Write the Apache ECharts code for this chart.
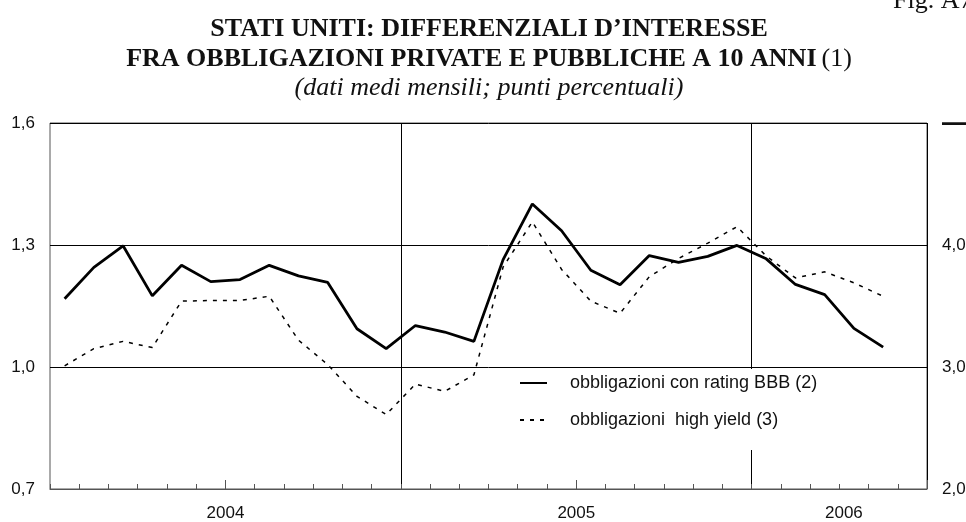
<!DOCTYPE html>
<html>
<head>
<meta charset="utf-8">
<script src="https://cdn.jsdelivr.net/npm/echarts@6/dist/echarts.min.js"></script>
<style>
  html, body { margin: 0; padding: 0; background: #fff; }
  #main { width: 966px; height: 522px; }
</style>
</head>
<body>
<div id="main"></div>
<script type="text/javascript">
    // mesi (gen 2004 - giu 2006)
    var months = [
        '2004-01','2004-02','2004-03','2004-04','2004-05','2004-06',
        '2004-07','2004-08','2004-09','2004-10','2004-11','2004-12',
        '2005-01','2005-02','2005-03','2005-04','2005-05','2005-06',
        '2005-07','2005-08','2005-09','2005-10','2005-11','2005-12',
        '2006-01','2006-02','2006-03','2006-04','2006-05','2006-06'
    ];
    // etichette anni e indice del mese su cui stanno
    var yearLabels = ['2004', '2005', '2006'];
    var yearLabelIdx = [6, 18, 27];

    // obbligazioni con rating BBB (scala di sinistra)
    var bbb = [1.168, 1.245, 1.298, 1.175, 1.250, 1.210, 1.215, 1.250, 1.224, 1.208, 1.094, 1.045,
               1.102, 1.086, 1.063, 1.264, 1.401, 1.335, 1.238, 1.202, 1.274, 1.257, 1.272, 1.299,
               1.266, 1.203, 1.178, 1.095, 1.049, null];
    // obbligazioni high yield (scala di destra)
    var highYield = [3.01, 3.15, 3.21, 3.16, 3.54, 3.545, 3.545, 3.58, 3.22, 3.02, 2.76, 2.61,
                     2.86, 2.80, 2.935, 3.82, 4.19, 3.80, 3.54, 3.44, 3.74, 3.89, 4.015, 4.15,
                     3.91, 3.73, 3.78, 3.69, 3.58, null];

    var leftTicks = [0.7, 1.6, 0.3];   // min, max, interval
    var rightTicks = [2, 5, 1];

    var sans = "'Liberation Sans', Arial, sans-serif";
    var serif = "'Liberation Serif', 'Times New Roman', serif";

    var myChart = echarts.init(document.getElementById('main'));
    myChart.setOption({
        animation: false,
        backgroundColor: '#fff',
        title: [
            {
                text: '{b|STATI UNITI: DIFFERENZIALI D\u2019INTERESSE}\n{b|FRA OBBLIGAZIONI PRIVATE E PUBBLICHE A 10 ANNI} {r|(1)}',
                left: 489,
                top: 14,
                padding: 0,
                textAlign: 'center',
                textStyle: {
                    lineHeight: 30,
                    rich: {
                        b: { fontFamily: serif, fontWeight: 'bold', fontSize: 26, color: '#111', lineHeight: 30 },
                        r: { fontFamily: serif, fontWeight: 'normal', fontSize: 26, color: '#111', lineHeight: 30 }
                    }
                }
            },
            {
                text: '(dati medi mensili; punti percentuali)',
                left: 489,
                top: 73,
                padding: 0,
                textAlign: 'center',
                textStyle: { fontFamily: serif, fontStyle: 'italic', fontWeight: 'normal', fontSize: 26, lineHeight: 30, color: '#111' }
            },
            {
                text: 'Fig. A7',
                left: 893,
                top: -14,
                padding: 0,
                textStyle: { fontFamily: serif, fontWeight: 'normal', fontSize: 26, lineHeight: 30, color: '#111' }
            }
        ],
        grid: {
            left: 50,
            right: 39,
            top: 123,
            bottom: 33,
            outerBoundsMode: 'none',
            containLabel: false,
            show: true,
            borderColor: '#555',
            borderWidth: 1
        },
        legend: {
            orient: 'vertical',
            left: 511,
            top: 369,
            padding: [5, 12, 21, 8],
            backgroundColor: '#fff',
            itemWidth: 27,
            itemHeight: 12,
            itemGap: 19,
            itemStyle: { opacity: 0 },
            textStyle: { fontFamily: sans, fontSize: 18, color: '#111', padding: [0, 0, 0, 18] },
            data: ['obbligazioni con rating BBB (2)', 'obbligazioni  high yield (3)']
        },
        xAxis: [
            {
                type: 'category',
                data: months,
                boundaryGap: true,
                axisLine: { show: true, lineStyle: { color: '#555', width: 1 } },
                axisTick: { show: true, inside: true, length: 5, interval: 0, lineStyle: { color: '#555' } },
                axisLabel: {
                    interval: function (i) { return yearLabelIdx.indexOf(i) >= 0; },
                    margin: 16,
                    formatter: function (v, i) {
                        var k = yearLabelIdx.indexOf(i);
                        if (k < 0) return '';
                        return (k === yearLabels.length - 1 ? '{s|' : '{y|') + yearLabels[k] + '}';
                    },
                    rich: {
                        y: { fontFamily: sans, fontSize: 17, color: '#111', padding: [0, 29, 0, 0] },
                        s: { fontFamily: sans, fontSize: 17, color: '#111', padding: [0, 20, 0, 0] }
                    }
                },
                splitLine: {
                    show: true,
                    interval: function (i) { return i > 0 && i % 12 === 0; },
                    lineStyle: { color: '#000', width: 1 }
                }
            },
            {
                type: 'category',
                data: months,
                position: 'bottom',
                boundaryGap: true,
                axisLine: { show: false },
                axisLabel: { show: false },
                axisTick: {
                    show: true, inside: true, length: 9,
                    interval: function (i) { return i % 12 === 6; },
                    lineStyle: { color: '#555' }
                },
                splitLine: { show: false }
            }
        ],
        yAxis: [
            {
                type: 'value',
                position: 'left',
                min: leftTicks[0],
                max: leftTicks[1],
                interval: leftTicks[2],
                axisLine: { show: false },
                axisTick: { show: false },
                axisLabel: {
                    margin: 15,
                    fontFamily: sans, fontSize: 17, color: '#111',
                    formatter: function (v) { return v.toFixed(1).replace('.', ','); }
                },
                splitLine: { show: true, lineStyle: { color: '#000', width: 1 } }
            },
            {
                type: 'value',
                position: 'right',
                min: rightTicks[0],
                max: rightTicks[1],
                interval: rightTicks[2],
                axisLine: { show: false },
                axisTick: { show: false },
                splitLine: { show: false },
                axisLabel: {
                    margin: 15,
                    fontFamily: sans, fontSize: 17, color: '#111',
                    formatter: function (v) {
                        if (v === rightTicks[1]) return '{d|\u2014}';
                        return v.toFixed(1).replace('.', ',');
                    },
                    rich: { d: { fontSize: 28, fontWeight: 'bold', color: '#111' } }
                }
            }
        ],
        series: [
            {
                name: 'obbligazioni con rating BBB (2)',
                type: 'line',
                xAxisIndex: 0,
                yAxisIndex: 0,
                data: bbb,
                symbol: 'none',
                lineStyle: { color: '#000', width: 2.8 },
                itemStyle: { color: '#000' },
                z: 3
            },
            {
                name: 'obbligazioni  high yield (3)',
                type: 'line',
                xAxisIndex: 0,
                yAxisIndex: 1,
                data: highYield,
                symbol: 'none',
                lineStyle: { color: '#000', width: 1.5, type: [4, 6] },
                itemStyle: { color: '#000' },
                z: 3
            }
        ]
    });
</script>
</body>
</html>
